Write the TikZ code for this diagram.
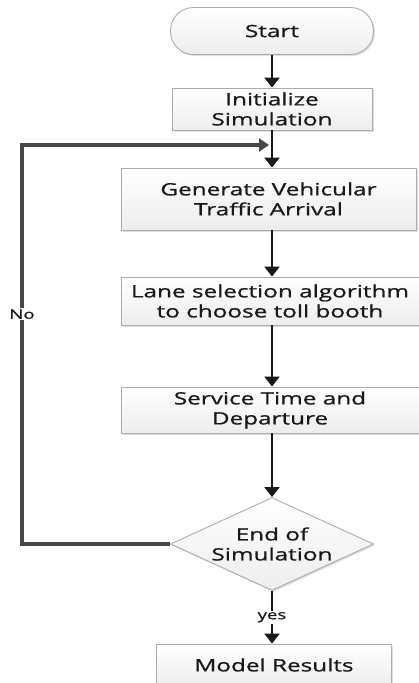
\documentclass[tikz,border=0pt]{standalone}
\usepackage{fontspec}
\setmainfont{Open Sans}[FakeStretch=1.43, FakeBold=0.9]
\usetikzlibrary{arrows.meta,shapes.geometric,shadows}
\begin{document}
\begin{tikzpicture}[x=1pt,y=-1pt,
  box/.style={draw=gray!65, line width=0.9pt, top color=white, bottom color=gray!14,
    font=\fontsize{17}{20}\selectfont, text=black!90, align=center, inner sep=0pt,
    drop shadow={shadow xshift=1.5pt, shadow yshift=-1.5pt, opacity=0.25, fill=gray}},
  arr/.style={draw=black!90, line width=2.6pt, -{Triangle[width=15pt,length=10pt]}},
  loopline/.style={draw=black!72, line width=3.2pt, line join=miter, -{Triangle[width=13pt,length=10pt]}},
  lab/.style={fill=white, text=black!90, font=\fontsize{13}{15}\selectfont, inner sep=1.5pt}
]
\useasboundingbox[fill=white] (0,0) rectangle (419,683);

\node[box, rounded corners=23pt, minimum width=203pt, minimum height=47pt] (start) at (272,31) {Start};
\node[box, minimum width=200pt, minimum height=42pt] (init) at (272,109) {Initialize\\Simulation};
\node[box, minimum width=295pt, minimum height=62pt] (gen) at (268.5,199) {Generate Vehicular\\Traffic Arrival};
\node[box, minimum width=298pt, minimum height=48pt] (lane) at (270,301) {Lane selection algorithm\\to choose toll booth};
\node[box, minimum width=298pt, minimum height=46pt] (serv) at (270,410) {Service Time and\\Departure};
\node[diamond, draw=gray!65, line width=0.9pt, top color=white, bottom color=gray!14,
  drop shadow={shadow xshift=1.5pt, shadow yshift=-1.5pt, opacity=0.25, fill=gray},
  minimum width=203pt, minimum height=93pt, inner sep=0pt, aspect=2.18] (dec) at (272,544) {};
\node[font=\fontsize{17}{20}\selectfont, text=black!90, align=center] (dectext) at (dec) {End of\\Simulation};
\node[box, minimum width=235pt, minimum height=42pt] (res) at (274,665) {Model Results};

\draw[arr] (start.south) -- (start.south |- init.north);
\draw[arr] (init.south) -- (init.south |- gen.north);
\draw[arr] (gen.south -| init) -- (lane.north -| init);
\draw[arr] (lane.south -| init) -- (serv.north -| init);
\draw[arr] (serv.south -| init) -- (dec.north);
\draw[arr] (dec.south) -- node[lab]{yes} (dec.south |- res.north);

\coordinate (c1) at (22,544);
\coordinate (c2) at (22,145);
\coordinate (join) at (269,145);
\draw[loopline] (dec.west) -- (c1) -- node[lab,pos=0.576]{No} (c2) -- (join);
\end{tikzpicture}
\end{document}
